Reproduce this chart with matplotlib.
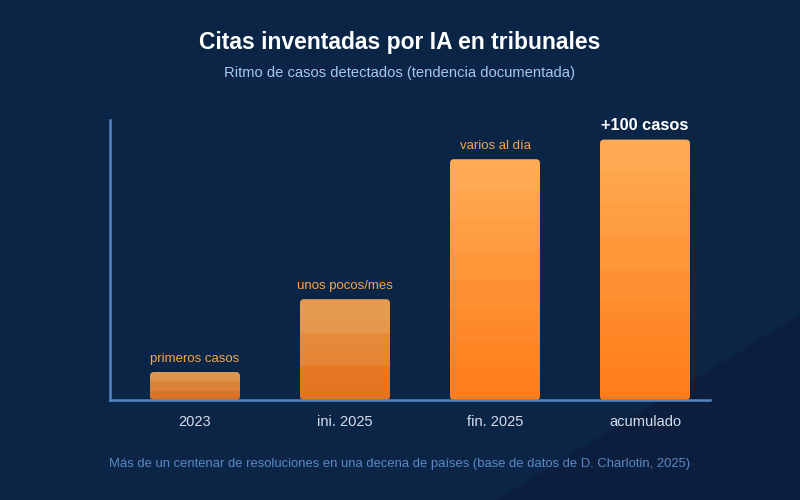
import numpy as np
import matplotlib.pyplot as plt
from matplotlib.patches import FancyBboxPatch, Polygon
from matplotlib.colors import LinearSegmentedColormap

categories = ["2023", "ini. 2025", "fin. 2025", "acumulado"]
values = [10, 36, 86, 93]
bar_labels = ["primeros casos", "unos pocos/mes", "varios al día", "+100 casos"]
bar_alpha = [0.86, 0.9, 1.0, 1.0]

bg = "#0b2547"
plt.rcParams["font.family"] = ["Liberation Sans", "DejaVu Sans"]

fig = plt.figure(figsize=(8, 5), dpi=100, facecolor=bg)
# darker triangle bottom right, behind everything
fig.patches.append(Polygon([[0.62, 0.0], [1.0, 0.37], [1.0, 0.0]], closed=True,
                           transform=fig.transFigure, facecolor="#0c1e3d",
                           edgecolor="none", zorder=-10))

ax = fig.add_axes([0.1375, 0.2, 0.75, 0.56])
ax.set_facecolor("none")
ax.set_xlim(-0.5 - 10 / 150, len(categories) - 0.5 - 10 / 150)
ax.set_ylim(0, 100)

cmap = LinearSegmentedColormap.from_list("orng", ["#ff7d1c", "#ff9436", "#ffac55"])
width = 0.6
mut_aspect = (100 / 280) / (1 / 150)
for i, (v, a) in enumerate(zip(values, bar_alpha)):
    x0 = i - width / 2
    patch = FancyBboxPatch((x0, 0), width, v,
                           boxstyle="round,pad=0,rounding_size=0.027",
                           mutation_aspect=mut_aspect, facecolor="none",
                           edgecolor="none", transform=ax.transData)
    ax.add_patch(patch)
    # vertical gradient with soft bands
    t = np.linspace(0, 1, 300)
    n = max(3, int(round(v / 11)))
    steps = np.floor(t * n) / (n - 1)
    grad = (0.4 * t + 0.6 * np.clip(steps, 0, 1)).reshape(-1, 1)
    img = ax.imshow(grad, cmap=cmap, vmin=0, vmax=1, origin="lower",
                    extent=[x0, x0 + width, 0, v], aspect="auto",
                    alpha=a, zorder=2, interpolation="nearest")
    img.set_clip_path(patch)

    last = i == len(categories) - 1
    ax.annotate(bar_labels[i], (i, v), xytext=(0, 14 if last else 13),
                textcoords="offset pixels", ha="center", va="center",
                color="white" if last else "#f5a54a",
                fontsize=11.8 if last else 9.5,
                fontweight="bold" if last else "normal")

ax.set_xticks(range(len(categories)))
ax.set_xticklabels(categories, color="#d5deec", fontsize=10.5)
ax.tick_params(axis="x", length=0, pad=11)
ax.set_yticks([])
for s in ["top", "right"]:
    ax.spines[s].set_visible(False)
for s in ["left", "bottom"]:
    ax.spines[s].set_color("#5585c5")
    ax.spines[s].set_linewidth(1.8)

fig.text(0.5, 0.916, "Citas inventadas por IA en tribunales", ha="center", va="center",
         color="white", fontsize=16.5, fontweight="bold")
fig.text(0.5, 0.854, "Ritmo de casos detectados (tendencia documentada)", ha="center",
         va="center", color="#a9c6ee", fontsize=10.6)
fig.text(0.5, 0.072, "Más de un centenar de resoluciones en una decena de países "
         "(base de datos de D. Charlotin, 2025)", ha="center", va="center",
         color="#5a88c6", fontsize=9.35)

fig.savefig("out.png", dpi=100, facecolor=bg)
